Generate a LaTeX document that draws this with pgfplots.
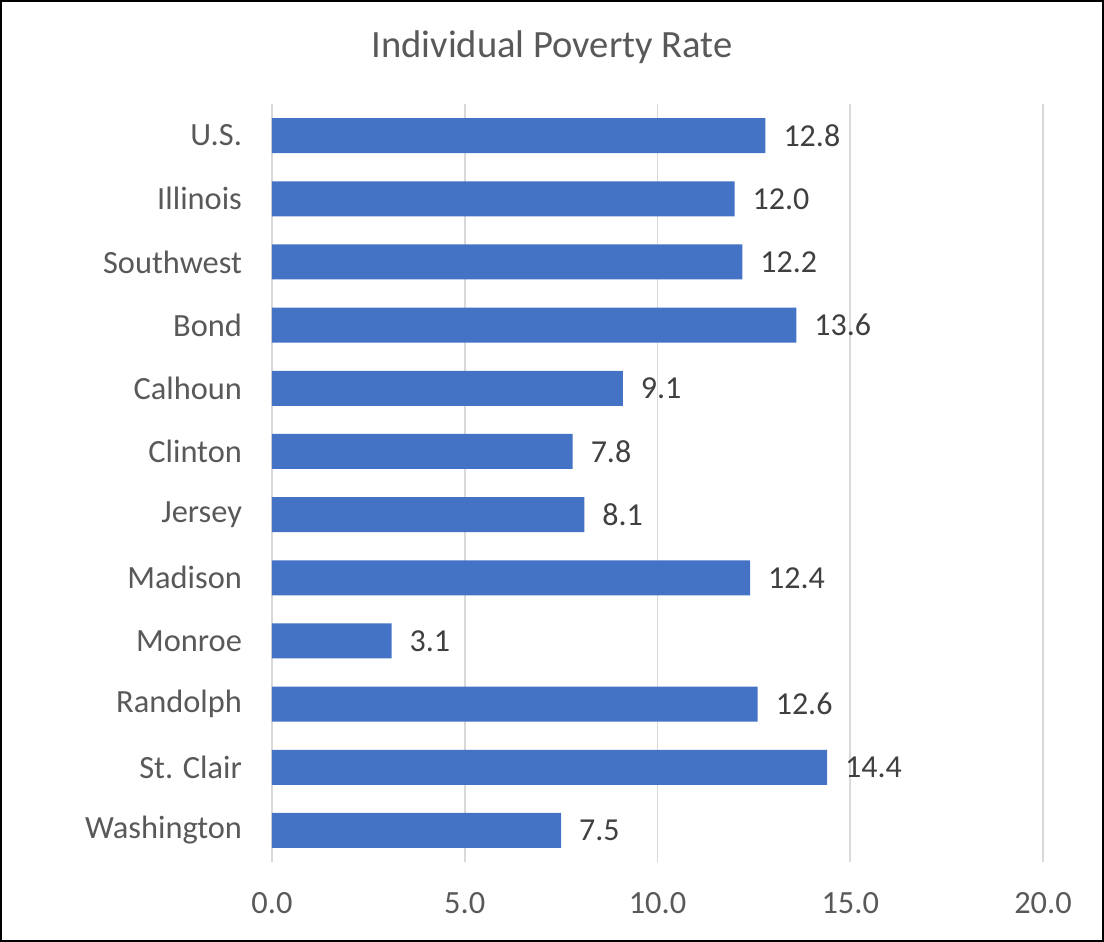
\documentclass[border=0pt]{standalone}
\usepackage{pgfplots}
\pgfplotsset{compat=1.18}
\usepackage{fontspec}
\setmainfont{Carlito}
\definecolor{barblue}{HTML}{4472C4}
\definecolor{txtgray}{HTML}{595959}
\definecolor{valgray}{HTML}{404040}
\definecolor{gridgray}{HTML}{D9D9D9}
\begin{document}
\begin{tikzpicture}[x=1pt,y=1pt]
  \path[use as bounding box] (0,0) rectangle (552,471);
  \begin{axis}[
    at={(136pt,40pt)}, anchor=south west,
    scale only axis,
    width=385.5pt, height=379pt,
    xbar, bar width=17.5pt,
    xmin=0, xmax=20,
    ymin=-0.5, ymax=11.5,
    y dir=reverse,
    xtick={0,5,10,15,20},
    ytick={0,...,11},
    yticklabels={U.S.,Illinois,Southwest,Bond,Calhoun,Clinton,Jersey,Madison,Monroe,Randolph,St. Clair,Washington},
    xmajorgrids, grid style={gridgray, line width=0.8pt},
    axis line style={draw=none},
    major tick length=0pt,
    /pgf/number format/assume math mode=true,
    xticklabel style={/pgf/number format/fixed, /pgf/number format/fixed zerofill,
      /pgf/number format/precision=1, yshift=-11.5pt},
    tick label style={font=\fontsize{16.2}{18}\selectfont, text=txtgray},
    yticklabel style={xshift=-11.5pt},
    nodes near coords,
    nodes near coords style={font=\fontsize{16}{18}\selectfont, text=valgray, anchor=west, xshift=5.5pt,
      /pgf/number format/fixed, /pgf/number format/fixed zerofill, /pgf/number format/precision=1},
    point meta=x,
  ]
    \addplot[fill=barblue, draw=none] coordinates {
      (12.8,0) (12.0,1) (12.2,2) (13.6,3) (9.1,4) (7.8,5)
      (8.1,6) (12.4,7) (3.1,8) (12.6,9) (14.4,10) (7.5,11)};
  \end{axis}
  \node[font=\fontsize{19.3}{21}\selectfont, text=txtgray] at (276,447.5) {Individual Poverty Rate};
  \draw[black, line width=1pt] (0.5,0.5) rectangle (551.5,470.5);
\end{tikzpicture}
\end{document}
